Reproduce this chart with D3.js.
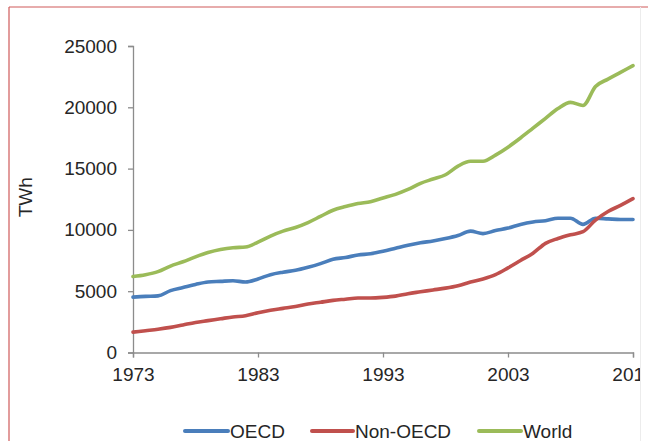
<!DOCTYPE html>
<html>
<head>
<meta charset="utf-8">
<script src="https://cdn.jsdelivr.net/npm/d3@7/dist/d3.min.js"></script>
<style>
  html, body { margin: 0; padding: 0; background: #fff; }
  svg { display: block; }
  text { font-family: "Liberation Sans", Arial, sans-serif; }
</style>
</head>
<body>
<svg id="chart" width="648" height="441"></svg>
<script>
// Electricity generation, TWh, 1973-2013
const years = d3.range(1973, 2014);
const oecd = [4520, 4580, 4620, 5050, 5300, 5550, 5750, 5800, 5850, 5750,
              6000, 6350, 6550, 6700, 6950, 7250, 7600, 7750, 7950, 8050,
              8250, 8500, 8750, 8950, 9100, 9300, 9550, 9900, 9700, 9950,
              10150, 10450, 10650, 10750, 10950, 10950, 10450, 10950, 10900, 10850,
              10850];
const nonOecd = [1660, 1780, 1900, 2050, 2250, 2450, 2600, 2750, 2900, 3000,
                 3250, 3450, 3600, 3750, 3950, 4100, 4250, 4350, 4450, 4450,
                 4500, 4600, 4800, 4950, 5100, 5250, 5450, 5750, 6000, 6350,
                 6900, 7500, 8100, 8900, 9300, 9600, 9850, 10800, 11500, 12000,
                 12550];
const world = [6200, 6350, 6600, 7050, 7400, 7800, 8150, 8400, 8550, 8600,
               9000, 9500, 9900, 10200, 10600, 11100, 11600, 11900, 12150, 12300,
               12600, 12900, 13300, 13800, 14150, 14500, 15200, 15600, 15600, 16100,
               16750, 17500, 18300, 19100, 19900, 20400, 20150, 21700, 22300, 22850,
               23400];
const seriesNames = ["OECD", "Non-OECD", "World"];
const seriesColors = ["#4a7ebb", "#c0504d", "#9bbb59"];
const xTicks = [1973, 1983, 1993, 2003, 2013];
const yTicks = [0, 5000, 10000, 15000, 20000, 25000];
const yTitle = "TWh";

const svg = d3.select("#chart");
const W = 648, H = 441;
const plotLeft = 133, plotRight = 633, plotTop = 46, plotBottom = 352.5;
const textColor = "#262626";
const axisColor = "#8c8c8c";
const fontSize = 19;

// outer frame (only left and top edges fall inside the view)
svg.append("rect").attr("width", W).attr("height", H).attr("fill", "#fff");
svg.append("line").attr("x1", 9).attr("x2", 9).attr("y1", 7).attr("y2", H)
  .attr("stroke", "#cf5a5a").attr("stroke-width", 1.2);
svg.append("line").attr("x1", 9).attr("x2", W).attr("y1", 7).attr("y2", 7)
  .attr("stroke", "#cf5a5a").attr("stroke-width", 1.2);

svg.append("defs").append("clipPath").attr("id", "clip")
  .append("rect").attr("x", 0).attr("y", 0).attr("width", 640).attr("height", H);

const g = svg.append("g").attr("clip-path", "url(#clip)");

const x = d3.scaleLinear().domain([1973, 2013]).range([plotLeft, plotRight]);
const y = d3.scaleLinear().domain([0, 25000]).range([plotBottom, plotTop]);

// y axis
const yAxis = g.append("g").attr("transform", `translate(${plotLeft},0)`)
  .call(d3.axisLeft(y).tickValues(yTicks).tickSize(5).tickPadding(11).tickFormat(d3.format("d")));
yAxis.select(".domain").attr("stroke", axisColor).attr("stroke-width", 1.3);
yAxis.selectAll(".tick line").attr("stroke", axisColor).attr("stroke-width", 1.3);
yAxis.selectAll(".tick text").attr("fill", textColor).attr("font-size", fontSize)
  .attr("font-family", "Liberation Sans, Arial, sans-serif");

// x axis
const xAxis = g.append("g").attr("transform", `translate(0,${plotBottom})`)
  .call(d3.axisBottom(x).tickValues(xTicks).tickSize(5).tickPadding(10).tickFormat(d3.format("d")));
xAxis.select(".domain").attr("stroke", axisColor).attr("stroke-width", 1.3);
xAxis.selectAll(".tick line").attr("stroke", axisColor).attr("stroke-width", 1.3);
xAxis.selectAll(".tick text").attr("fill", textColor).attr("font-size", fontSize)
  .attr("font-family", "Liberation Sans, Arial, sans-serif");

// y axis title
g.append("text")
  .attr("transform", `translate(32,${(plotTop + plotBottom) / 2 - 2}) rotate(-90)`)
  .attr("text-anchor", "middle")
  .attr("fill", textColor).attr("font-size", fontSize)
  .text(yTitle);

// series lines
const allSeries = [oecd, nonOecd, world];
const line = d3.line()
  .x((d, i) => x(years[i]))
  .y(d => y(d))
  .curve(d3.curveMonotoneX);

allSeries.forEach((vals, k) => {
  g.append("path")
    .datum(vals)
    .attr("fill", "none")
    .attr("stroke", seriesColors[k])
    .attr("stroke-width", 3.6)
    .attr("stroke-linejoin", "round")
    .attr("stroke-linecap", "round")
    .attr("d", line);
});

// legend
const legendY = 431;
const legendItems = [
  { x0: 185, len: 43 },
  { x0: 312, len: 41 },
  { x0: 479, len: 42 }
];
seriesNames.forEach((name, k) => {
  const it = legendItems[k];
  g.append("line")
    .attr("x1", it.x0).attr("x2", it.x0 + it.len)
    .attr("y1", legendY).attr("y2", legendY)
    .attr("stroke", seriesColors[k]).attr("stroke-width", 4)
    .attr("stroke-linecap", "round");
  g.append("text")
    .attr("x", it.x0 + it.len + 2).attr("y", legendY)
    .attr("dy", "0.35em")
    .attr("fill", textColor).attr("font-size", fontSize)
    .text(name);
});

// faint right edge of the chart area
svg.append("line").attr("x1", 640.5).attr("x2", 640.5).attr("y1", 7).attr("y2", H)
  .attr("stroke", "#ececec").attr("stroke-width", 1);
</script>
</body>
</html>
